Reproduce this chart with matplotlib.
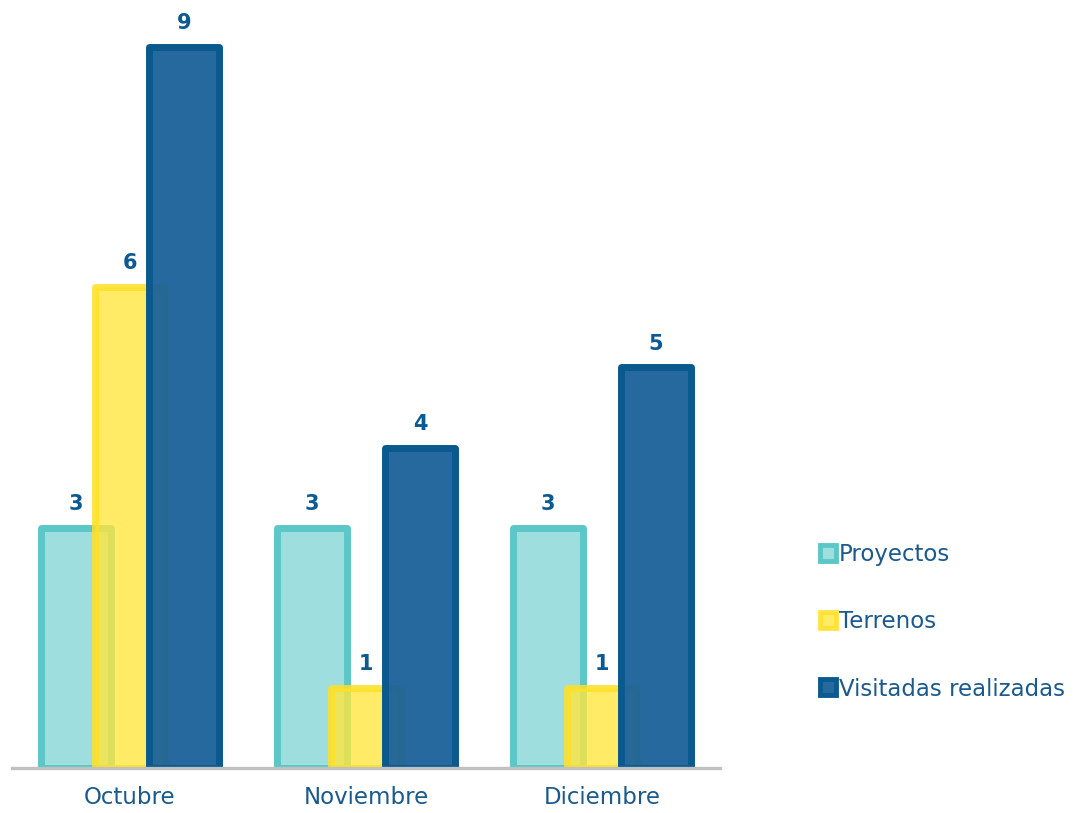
import matplotlib.pyplot as plt
from matplotlib.lines import Line2D
import numpy as np

months = ['Octubre', 'Noviembre', 'Diciembre']
series = ['Proyectos', 'Terrenos', 'Visitadas realizadas']
proyectos = [3, 3, 3]
terrenos = [6, 1, 1]
visitadas = [9, 4, 5]
values = [proyectos, terrenos, visitadas]

faces = [(0.62, 0.87, 0.87, 1.0), (1.0, 0.90, 0.25, 0.8), (0.10, 0.38, 0.60, 0.95)]
edges = [(0.36, 0.78, 0.78, 1.0), (1.0, 0.88, 0.15, 0.85), (0.04, 0.35, 0.56, 1.0)]
text_col = '#1a5a8e'
label_col = '#0b5a92'

W, H = 1076, 813
fig = plt.figure(figsize=(W / 100, H / 100), dpi=100)
ax = fig.add_axes([12 / W, 45 / H, 708 / W, 761 / H])

x = np.arange(len(months))
width = 0.30
offset = 0.229

for i, (vals, name) in enumerate(zip(values, series)):
    pos = x + (i - 1) * offset
    bars = ax.bar(pos, vals, width, facecolor=faces[i], edgecolor=edges[i],
                  linewidth=5, joinstyle='round', label=name, zorder=2 + i)
    for b, v in zip(bars, vals):
        ax.annotate(str(v), (b.get_x() + b.get_width() / 2, v),
                    xytext=(0, 10), textcoords='offset points',
                    ha='center', va='bottom', fontsize=15, fontweight='bold',
                    color=label_col, zorder=10)

ax.set_xlim(-0.5, 2.5)
ax.set_ylim(0, 9.5)
ax.axhline(0, color='#c0c0c0', linewidth=2.4, zorder=9, clip_on=False)
for s in ax.spines.values():
    s.set_visible(False)
ax.set_yticks([])
ax.set_xticks(x)
ax.set_xticklabels(months, fontsize=16.5, color=text_col)
ax.tick_params(axis='x', length=0, pad=13)

handles = [Line2D([], [], linestyle='none', marker='s', markersize=12,
                  markerfacecolor=faces[i], markeredgecolor=edges[i],
                  markeredgewidth=3.5) for i in range(3)]
leg = fig.legend(handles, series, loc='center left',
                 bbox_to_anchor=(799 / W, 1 - 622 / H), frameon=False,
                 fontsize=16.5, labelspacing=1.92, handlelength=0.7,
                 handletextpad=0.15)
for t in leg.get_texts():
    t.set_color(text_col)

fig.savefig('out.png', dpi=100)
